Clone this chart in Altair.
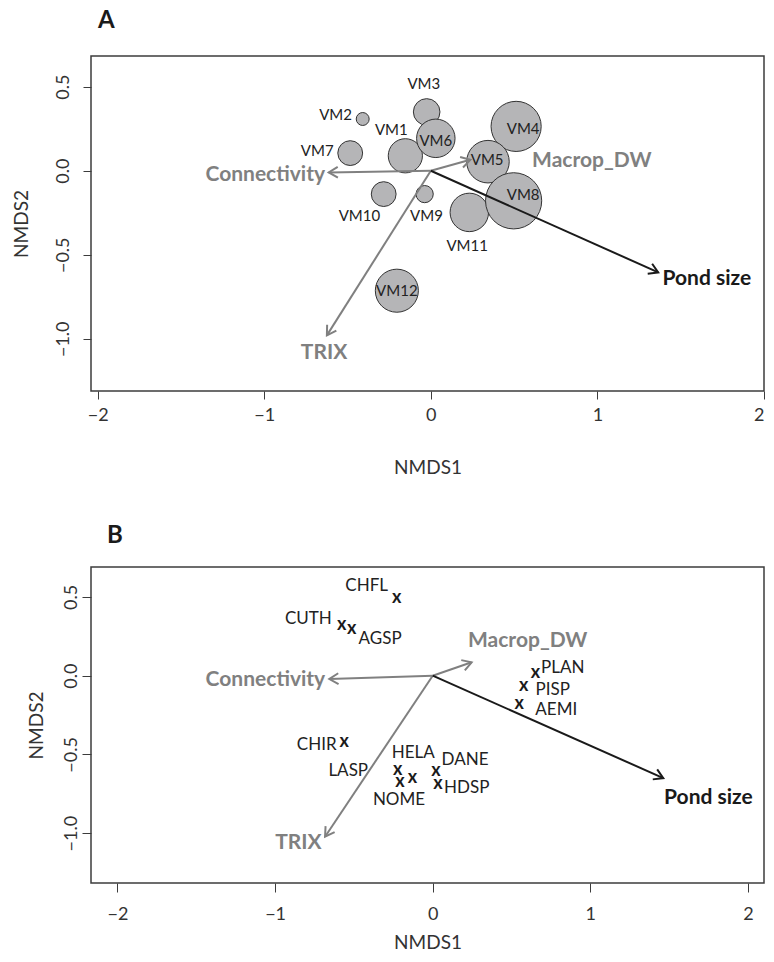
import math
import altair as alt
import pandas as pd

# ---------------- Panel A : sites (bubbles) ----------------
sites = ["VM1", "VM2", "VM3", "VM4", "VM5", "VM6", "VM7", "VM9", "VM10", "VM11", "VM8", "VM12"]
site_x = [-0.153, -0.409, -0.025, 0.512, 0.343, 0.030, -0.484, -0.037, -0.283, 0.231, 0.497, -0.204]
site_y = [0.089, 0.308, 0.350, 0.264, 0.054, 0.193, 0.105, -0.139, -0.139, -0.248, -0.179, -0.714]
site_bubble = [19.3, 7.3, 15.0, 28.3, 24.0, 21.7, 14.0, 9.7, 14.0, 21.7, 31.7, 24.3]
site_label_x = [-0.237, -0.572, -0.042, 0.554, 0.338, 0.030, -0.682, -0.026, -0.429, 0.218, 0.554, -0.204]
site_label_y = [0.244, 0.332, 0.516, 0.248, 0.064, 0.179, 0.119, -0.268, -0.268, -0.446, -0.145, -0.714]

# ---------------- Panel B : species ----------------
species = ["CHFL", "CUTH", "AGSP", "CHIR", "LASP", "HELA", "NOME", "DANE", "HDSP", "PLAN", "PISP", "AEMI"]
sp_x = [-0.228, -0.577, -0.514, -0.561, -0.222, -0.129, -0.207, 0.021, 0.034, 0.652, 0.577, 0.549]
sp_y = [0.494, 0.324, 0.297, -0.424, -0.598, -0.650, -0.672, -0.604, -0.689, 0.017, -0.068, -0.180]
sp_label_x = [-0.419, -0.789, -0.334, -0.736, -0.536, -0.123, -0.214, 0.205, 0.216, 0.825, 0.761, 0.784]
sp_label_y = [0.568, 0.360, 0.233, -0.439, -0.608, -0.488, -0.788, -0.538, -0.714, 0.049, -0.093, -0.216]

# ---------------- environmental vectors ----------------
env_vars = ["Connectivity", "Macrop_DW", "TRIX", "Pond size"]
env_align = ["right", "left", "center", "left"]
a_arrow_x = [-0.613, 0.237, -0.624, 1.365]
a_arrow_y = [-0.010, 0.065, -0.980, -0.605]
a_label_x = [-0.635, 0.608, -0.641, 1.391]
a_label_y = [-0.026, 0.056, -1.087, -0.645]

b_arrow_x = [-0.656, 0.247, -0.683, 1.463]
b_arrow_y = [-0.021, 0.085, -1.022, -0.650]
b_label_x = [-0.682, 0.224, -0.852, 1.468]
b_label_y = [-0.025, 0.223, -1.064, -0.777]

x_ticks = [-2, -1, 0, 1, 2]
y_ticks = [-1.0, -0.5, 0.0, 0.5]
panel_letters = ["A", "B"]

FONT = "Lato"
GREY = "#808080"
DARK = "#1a1a1a"
BOX = "#3c3c3c"


def env_frame(ax, ay, lx, ly, sx, sy):
    df = pd.DataFrame({"var": env_vars, "align": env_align,
                       "x0": 0.0, "y0": 0.0, "x1": ax, "y1": ay, "lx": lx, "ly": ly})
    df["color"] = [DARK if v == "Pond size" else GREY for v in env_vars]
    df["angle"] = [(math.degrees(math.atan2(-(y1) * sy, x1 * sx))) % 360 for x1, y1 in zip(ax, ay)]
    return df


def env_layers(df, xs, ys):
    shaft = alt.Chart(df).mark_rule(strokeWidth=2).encode(
        x=alt.X("x0:Q", scale=xs), y=alt.Y("y0:Q", scale=ys),
        x2="x1:Q", y2="y1:Q", color=alt.Color("color:N", scale=None))
    head = alt.Chart(df).mark_point(shape="M -1 -0.6 L 0 0 L -1 0.6", filled=False,
                                     size=330, strokeWidth=2, opacity=1).encode(
        x=alt.X("x1:Q", scale=xs), y=alt.Y("y1:Q", scale=ys),
        angle=alt.Angle("angle:Q", scale=None),
        color=alt.Color("color:N", scale=None))
    labels = []
    for al in ["left", "right", "center"]:
        labels.append(alt.Chart(df).transform_filter(alt.datum.align == al).mark_text(
            align=al, baseline="middle", font=FONT, fontSize=21, fontWeight="bold").encode(
            x=alt.X("lx:Q", scale=xs), y=alt.Y("ly:Q", scale=ys), text="var:N",
            color=alt.Color("color:N", scale=None)))
    return [shaft, head] + labels


def letter(text, dx, dy):
    return alt.Chart(pd.DataFrame({"t": [text]})).mark_text(
        align="left", baseline="alphabetic", font=FONT, fontSize=24, fontWeight="bold",
        color=DARK).encode(x=alt.value(dx), y=alt.value(dy), text="t:N")


def axes(tick_x, pad_x, title_y, tick_y, pad_y, title_x):
    xa = alt.Axis(values=x_ticks, format="d", title="NMDS1", grid=False, domain=False,
                  tickSize=tick_x, tickColor=BOX, labelPadding=pad_x, labelFontSize=18,
                  labelFont=FONT, labelColor="#333333", labelBaseline="top", labelFlush=True,
                  titleFont=FONT, titleFontSize=19, titleFontWeight="normal", titleColor="#333333",
                  titleY=title_y, titleBaseline="alphabetic")
    ya = alt.Axis(values=y_ticks, format=".1f", title="NMDS2", grid=False, domain=False,
                  tickSize=tick_y, tickColor=BOX, labelPadding=pad_y, labelFontSize=18,
                  labelFont=FONT, labelColor="#333333", labelAngle=270, labelAlign="center",
                  labelBaseline="alphabetic", labelFlush=False,
                  titleFont=FONT, titleFontSize=19, titleFontWeight="normal", titleColor="#333333",
                  titleX=title_x, titleBaseline="alphabetic")
    return xa, ya


# ---------------- Panel A ----------------
WA, HA = 673, 335
xdomA, ydomA = [-2.04, 2.0], [-1.311, 0.683]
sxA = WA / (xdomA[1] - xdomA[0])
syA = HA / (ydomA[1] - ydomA[0])
xsA = alt.Scale(domain=xdomA, nice=False, zero=False)
ysA = alt.Scale(domain=ydomA, nice=False, zero=False)
xaA, yaA = axes(8, 7, 82, 8, 15, -64)

dfA = pd.DataFrame({"site": sites, "x": site_x, "y": site_y, "bubble": site_bubble,
                    "lx": site_label_x, "ly": site_label_y})
max_b = max(site_bubble)
bubbles = alt.Chart(dfA).mark_circle(opacity=1, fill="#b5b5b7", stroke="#333333",
                                     strokeWidth=1).encode(
    x=alt.X("x:Q", scale=xsA, axis=xaA),
    y=alt.Y("y:Q", scale=ysA, axis=yaA),
    size=alt.Size("bubble:Q", legend=None,
                  scale=alt.Scale(type="pow", exponent=2, domain=[0, max_b],
                                  range=[0, math.pi * max_b ** 2])))
site_txt = alt.Chart(dfA).mark_text(font=FONT, fontSize=15, color="#222222",
                                    baseline="middle").encode(
    x=alt.X("lx:Q", scale=xsA), y=alt.Y("ly:Q", scale=ysA), text="site:N")
envA = env_layers(env_frame(a_arrow_x, a_arrow_y, a_label_x, a_label_y, sxA, syA), xsA, ysA)

panelA = alt.layer(bubbles, *envA, site_txt, letter(panel_letters[0], 7, -28)).properties(
    width=WA, height=HA)

# ---------------- Panel B ----------------
WB, HB = 673, 316
xdomB, ydomB = [-2.168, 2.102], [-1.316, 0.69]
sxB = WB / (xdomB[1] - xdomB[0])
syB = HB / (ydomB[1] - ydomB[0])
xsB = alt.Scale(domain=xdomB, nice=False, zero=False)
ysB = alt.Scale(domain=ydomB, nice=False, zero=False)
xaB, yaB = axes(9, 13, 65, 9, 6, -49)

dfB = pd.DataFrame({"sp": species, "x": sp_x, "y": sp_y, "lx": sp_label_x, "ly": sp_label_y,
                    "mark": "x"})
xs_marks = alt.Chart(dfB).mark_text(font=FONT, fontSize=18, fontWeight="bold", color=DARK,
                                    baseline="middle").encode(
    x=alt.X("x:Q", scale=xsB, axis=xaB),
    y=alt.Y("y:Q", scale=ysB, axis=yaB), text="mark:N")
sp_txt = alt.Chart(dfB).mark_text(font=FONT, fontSize=17, color="#222222",
                                  baseline="middle").encode(
    x=alt.X("lx:Q", scale=xsB), y=alt.Y("ly:Q", scale=ysB), text="sp:N")
envB = env_layers(env_frame(b_arrow_x, b_arrow_y, b_label_x, b_label_y, sxB, syB), xsB, ysB)

panelB = alt.layer(xs_marks, *envB, sp_txt, letter(panel_letters[1], 16, -24.5)).properties(
    width=WB, height=HB)

chart = alt.vconcat(panelA, panelB, spacing=44).resolve_scale(
    x="independent", y="independent", color="independent", size="independent"
).configure(padding={"left": 3, "top": 0, "right": 0, "bottom": 0},
            background="white").configure_view(stroke=BOX, strokeWidth=1.5)

chart.save("out.html", embed_options={"renderer": "svg", "actions": False})
